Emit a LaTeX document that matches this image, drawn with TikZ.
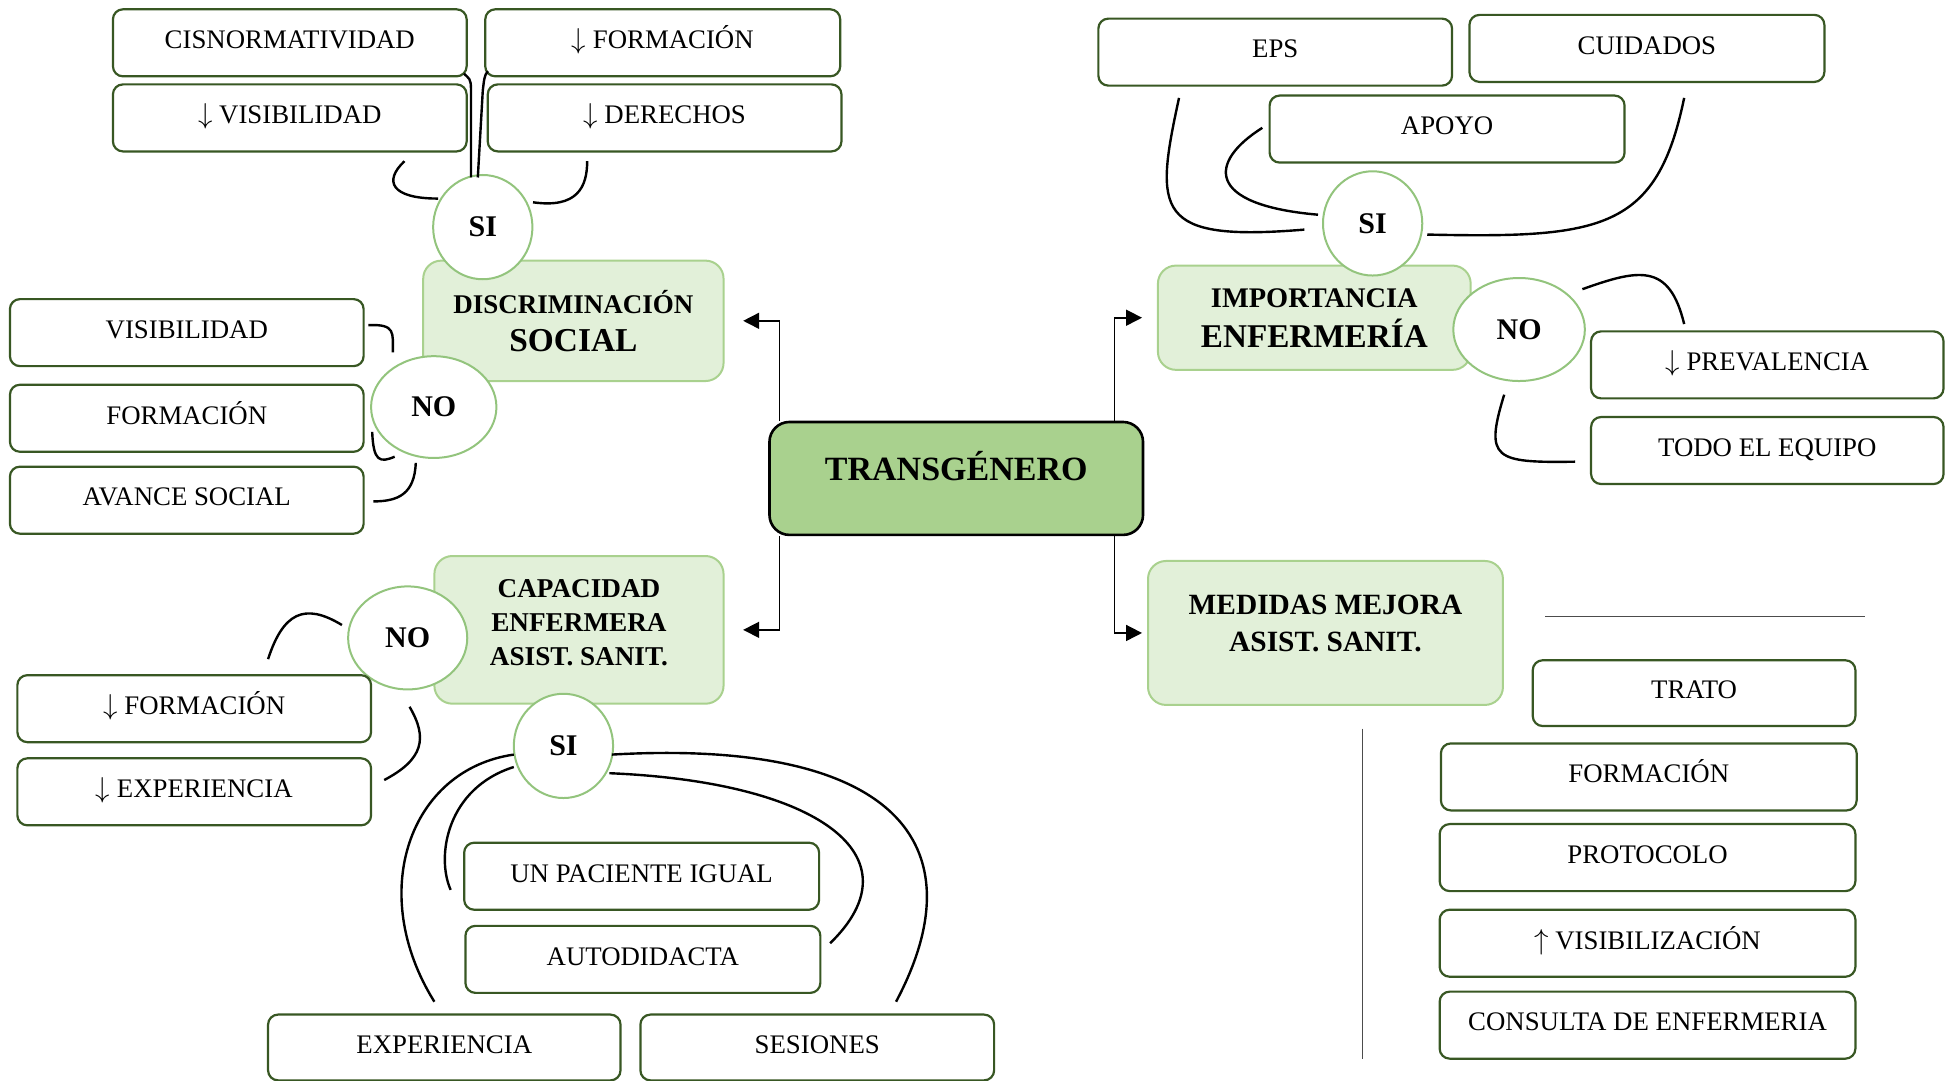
\documentclass[tikz,border=0pt]{standalone}
\usepackage{fontspec}
\setmainfont{Liberation Serif}
\usetikzlibrary{shapes.geometric,arrows.meta}
\definecolor{verdeosc}{HTML}{385723}
\definecolor{verdeborde}{HTML}{A9D18E}
\definecolor{verdefondo}{HTML}{E2F0D9}
\definecolor{verdecentro}{HTML}{A9D18E}
\definecolor{verdecirc}{HTML}{93C47D}
\def\px{0.6206pt}
\newcommand{\baja}{$\downarrow$}
\newcommand{\sube}{$\uparrow$}
\tikzset{
  caja/.style={draw=verdeosc, line width=1.1pt, rounded corners=5pt, fill=white,
    minimum width=285*\px, minimum height=54*\px, inner sep=0pt,
    font=\fontsize{13.4}{16}\selectfont, text height=9pt, text depth=3.2pt},
  tema/.style={draw=verdeborde, fill=verdefondo, line width=1pt,
    rounded corners=9pt, align=center, inner sep=0pt},
  circulo/.style={ellipse, draw=verdecirc, fill=white, line width=1pt,
    minimum width=80*\px, minimum height=84*\px, inner sep=0pt,
    font=\bfseries\fontsize{15}{18}\selectfont},
  rama/.style={line width=1.2pt},
  flecha/.style={line width=0.8pt, -{Triangle[length=8pt,width=8pt]}},
  guia/.style={line width=0.6pt, black!70},
}
\begin{document}
\begin{tikzpicture}[x=\px, y=-\px]
  \useasboundingbox (0,0) rectangle (1568,871);
  % nodo central
  \node[draw, fill=verdecentro, line width=1.3pt, rounded corners=10pt,
    minimum width=301*\px, minimum height=91*\px, inner sep=0pt,
    font=\bfseries\fontsize{17}{20}\selectfont, text height=12pt, text depth=10pt]
    (trans) at (770.5,385.5) {TRANSGÉNERO};

  % discriminacion social
  \node[caja] (cis) at (233.5,34.5) {CISNORMATIVIDAD};
  \node[caja, minimum width=286*\px] (formA) at (534,34.5) {\baja\ FORMACIÓN};
  \node[caja] (visA) at (233.5,95) {\baja\ VISIBILIDAD};
  \node[caja] (der) at (535.5,95) {\baja\ DERECHOS};
  \node[tema, minimum width=242*\px, minimum height=97*\px,
    font=\bfseries\fontsize{16.7}{19}\selectfont] (disc) at (462,258.5)
    {{\fontsize{13.5}{19}\selectfont DISCRIMINACIÓN}\\SOCIAL};
  \node[circulo] (siA) at (389,183) {SI};
  \node[circulo, minimum width=101*\px, minimum height=82*\px] (noA) at (349.5,328) {NO};
  \node[caja] (vis) at (150.5,268) {VISIBILIDAD};
  \node[caja] (form) at (150.5,337) {FORMACIÓN};
  \node[caja] (avance) at (150.5,403) {AVANCE SOCIAL};
  \draw[rama] ([shift={(-36,-23)}]siA.center) .. controls +(-38,0) and +(-17,16) .. ([shift={(-51,7)}]visA.south east);
  \draw[rama] ([shift={(40.5,-20)}]siA.center) .. controls +(35.5,5) and +(0,21) .. ([shift={(81,7)}]der.south west);
  \draw[rama] ([shift={(-9.5,-40)}]siA.center) -- ++(0,-71) .. controls +(0,-9) and +(4,4) .. ([shift={(-3,-3)}]cis.south east);
  \draw[rama] ([shift={(-4,-40)}]siA.center) -- ++(4,-70) .. controls +(1,-8) and +(-3,3) .. ([shift={(3,-5)}]formA.south west);
  \draw[rama] ([shift={(3,-6)}]vis.east) .. controls +(22,-1) and +(0,-16) .. ([shift={(-33,-44)}]noA.center);
  \draw[rama] ([shift={(6,11)}]form.east) .. controls +(1,24) and +(-12,5) .. ([shift={(-31.5,40)}]noA.center);
  \draw[rama] ([shift={(-14.5,45)}]noA.center) .. controls +(-1,25) and +(20,0) .. ([shift={(7,1)}]avance.east);

  % importancia enfermeria
  \node[caja] (eps) at (1027.5,42) {EPS};
  \node[caja, minimum width=286*\px] (cuid) at (1327,39) {CUIDADOS};
  \node[caja, minimum width=286*\px] (apoyo) at (1166,104) {APOYO};
  \node[tema, minimum width=252*\px, minimum height=84*\px,
    font=\bfseries\fontsize{16.6}{20}\selectfont] (imp) at (1059,256)
    {{\fontsize{14.2}{20}\selectfont IMPORTANCIA}\\ENFERMERÍA};
  \node[circulo] (siB) at (1106,180) {SI};
  \node[circulo, minimum width=106*\px, minimum height=83*\px] (noB) at (1224,265.5) {NO};
  \node[caja, minimum width=284*\px] (prev) at (1424,294) {\baja\ PREVALENCIA};
  \node[caja, minimum width=284*\px] (todo) at (1424,363) {TODO EL EQUIPO};
  \draw[rama] ([shift={(-77.5,9)}]eps.south) .. controls +(-20,92) and +(-121,10) .. ([shift={(-55,5)}]siB.center);
  \draw[rama] ([shift={(-5,-1)}]apoyo.west) .. controls +(-43,27) and +(-92,-8) .. ([shift={(-44,-7)}]siB.center);
  \draw[rama] ([shift={(30,12)}]cuid.south) .. controls +(-22,107) and +(140,3) .. ([shift={(44,9)}]siB.center);
  \draw[rama] ([shift={(51,-32.5)}]noB.center) .. controls +(45,-16) and +(-12,-50) .. ([shift={(-67,-5)}]prev.north);
  \draw[rama] ([shift={(-12,52.5)}]noB.center) .. controls +(-16,52) and +(-65,1) .. ([shift={(-12,9)}]todo.west);

  % capacidad enfermera
  \node[tema, minimum width=233*\px, minimum height=119*\px,
    font=\bfseries\fontsize{13.6}{17}\selectfont, text depth=7pt] (cap) at (466.5,507.5)
    {CAPACIDAD\\ENFERMERA\\ASIST. SANIT.};
  \node[circulo, minimum width=96*\px, minimum height=83*\px] (noC) at (328.5,514) {NO};
  \node[caja] (formC) at (156.5,571) {\baja\ FORMACIÓN};
  \node[caja] (exp) at (156.5,638) {\baja\ EXPERIENCIA};
  \node[circulo] (siC) at (454,601) {SI};
  \node[caja, minimum width=286*\px] (pac) at (517,706) {UN PACIENTE IGUAL};
  \node[caja, minimum width=286*\px] (auto) at (518,773) {AUTODIDACTA};
  \node[caja, minimum width=284*\px, minimum height=53*\px] (expe) at (358,844) {EXPERIENCIA};
  \node[caja, minimum height=53*\px] (ses) at (658.5,844) {SESIONES};
  \draw[rama] ([shift={(-53,-10.4)}]noC.center) .. controls +(-30.5,-18.6) and +(12,-37) .. ([shift={(59.5,-12)}]formC.north);
  \draw[rama] ([shift={(1.5,55.5)}]noC.center) .. controls +(15,25.5) and +(31.3,-16.5) .. ([shift={(9.7,-9.5)}]exp.east);
  \draw[rama] ([shift={(-40,7)}]siC.center) .. controls +(-84,12) and +(-55,-88) .. ([shift={(-8,-9.5)}]expe.north);
  \draw[rama] ([shift={(-40,17)}]siC.center) .. controls +(-54,17) and +(-12,-27) .. ([shift={(-10,11)}]pac.west);
  \draw[rama] ([shift={(37,22)}]siC.center) .. controls +(169,7) and +(72,-70) .. ([shift={(7,-13)}]auto.east);
  \draw[rama] ([shift={(39,7)}]siC.center) .. controls +(227,-13) and +(68,-128) .. ([shift={(63.5,-9.5)}]ses.north);

  % medidas mejora
  \node[tema, minimum width=286*\px, minimum height=116*\px,
    font=\bfseries\fontsize{14.7}{18.6}\selectfont, text depth=10pt] (med) at (1068,510)
    {MEDIDAS MEJORA\\ASIST. SANIT.};
  \node[caja, minimum width=260*\px, minimum height=53*\px] (trato) at (1365,558.5) {TRATO};
  \node[caja, minimum width=335*\px] (formD) at (1328.5,626) {FORMACIÓN};
  \node[caja, minimum width=335*\px] (prot) at (1327.5,691) {PROTOCOLO};
  \node[caja, minimum width=335*\px] (visD) at (1327.5,760) {\sube\ VISIBILIZACIÓN};
  \node[caja, minimum width=335*\px] (cons) at (1327.5,826) {CONSULTA DE ENFERMERIA};
  \draw[guia] (1245,497) -- (1503,497);
  \draw[guia] (1098,587) -- (1098,853);

  % flechas
  \draw[flecha] ([xshift=9*\px]trans.north west) |- ([xshift=15*\px]disc.east);
  \draw[flecha] ([xshift=-24*\px]trans.north east) |- ([xshift=-12*\px]imp.west);
  \draw[flecha] ([xshift=9*\px]trans.south west) |- ([xshift=15*\px]cap.east);
  \draw[flecha] ([xshift=-24*\px]trans.south east) |- ([xshift=-4*\px]med.west);
\end{tikzpicture}
\end{document}
